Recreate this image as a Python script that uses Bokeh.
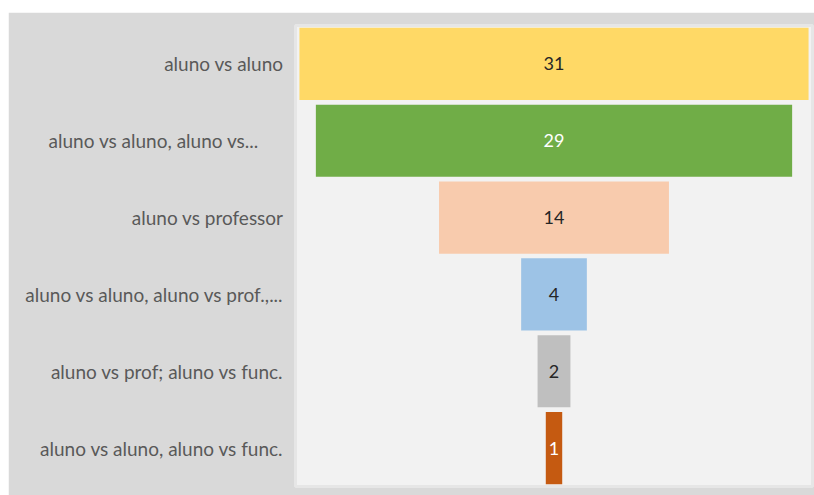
from bokeh.plotting import figure
from bokeh.models import ColumnDataSource, Range1d, FactorRange, Spacer
from bokeh.layouts import column, row
from bokeh.embed import file_html
from bokeh.resources import INLINE

categories = ["aluno vs aluno", "aluno vs aluno, aluno vs...\u00a0\u00a0\u00a0\u00a0\u00a0",
              "aluno vs professor", "aluno vs aluno, aluno vs prof.,...",
              "aluno vs prof; aluno vs func.", "aluno vs aluno, aluno vs func."]
values = [31, 29, 14, 4, 2, 1]
colors = ["#FFD966", "#70AD47", "#F8CBAD", "#9DC3E6", "#BFBFBF", "#C55A11"]
text_colors = ["#262626", "#ffffff", "#262626", "#262626", "#262626", "#ffffff"]

src = ColumnDataSource(dict(
    cat=categories,
    left=[-v / 2 for v in values],
    right=[v / 2 for v in values],
    val=values,
    lbl=[str(v) for v in values],
    color=colors,
    tcolor=text_colors,
    x0=[0] * len(values),
))

p = figure(width=806, height=483, output_backend="svg", toolbar_location=None,
           y_range=FactorRange(*reversed(categories), range_padding=0),
           x_range=Range1d(-15.74, 15.74),
           min_border_left=287, min_border_right=2, min_border_top=13, min_border_bottom=9)

p.background_fill_color = "#F2F2F2"
p.border_fill_color = "#D9D9D9"
p.outline_line_color = "#E6E6E6"
p.outline_line_width = 3

p.hbar(y="cat", left="left", right="right", height=0.94, color="color", line_color=None, source=src)
p.text(x="x0", y="cat", text="lbl", text_color="tcolor", text_align="center", text_baseline="middle",
       text_font_size="18px", text_font={"value": "Lato"}, source=src)

p.xaxis.visible = False
p.xgrid.visible = False
p.ygrid.visible = False
ax = p.yaxis[0]
ax.axis_line_color = None
ax.major_tick_line_color = None
ax.minor_tick_line_color = None
ax.major_label_text_font = "Lato"
ax.major_label_text_font_size = "19px"
ax.major_label_text_color = "#595959"
ax.major_label_standoff = 6

layout = row(Spacer(width=8), column(Spacer(height=12), p))
open("out.html", "w").write(file_html(layout, INLINE))
